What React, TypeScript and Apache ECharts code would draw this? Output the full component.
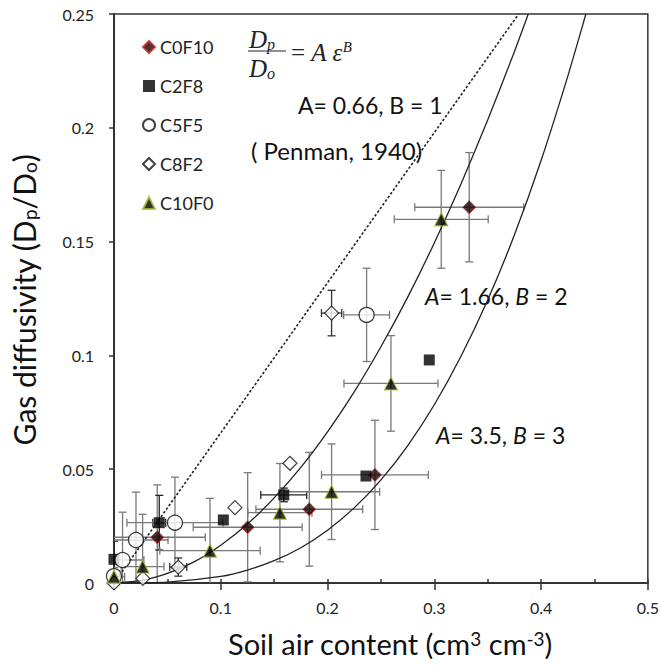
import React, { useEffect, useRef } from "react";
import * as echarts from "echarts";

// ---- model curves ----
const penmanX = [0, 0.379];
const penmanY = [0, 0.25];
const curveB2X = [0, 0.025, 0.05, 0.075, 0.1, 0.125, 0.15, 0.175, 0.2, 0.225, 0.25, 0.275, 0.3, 0.325, 0.35, 0.375, 0.388];
const curveB2Y = [0, 0.001, 0.0042, 0.0093, 0.0166, 0.0259, 0.0374, 0.0508, 0.0664, 0.084, 0.1038, 0.1255, 0.1494, 0.1753, 0.2034, 0.2334, 0.25];
const curveB3X = [0, 0.05, 0.1, 0.125, 0.15, 0.175, 0.2, 0.225, 0.25, 0.275, 0.3, 0.325, 0.35, 0.375, 0.4, 0.425, 0.442];
const curveB3Y = [0, 0.0004, 0.0029, 0.0057, 0.0098, 0.0155, 0.0232, 0.033, 0.0453, 0.0603, 0.0783, 0.0996, 0.1243, 0.1529, 0.1856, 0.2226, 0.25];

// ---- measured data ----
const c0f10X = [0.0405, 0.1252, 0.1829, 0.2444, 0.3327];
const c0f10Y = [0.0201, 0.0245, 0.0324, 0.0475, 0.1651];
const c0f10XErr = [0.045, 0.051, 0.05, 0.05, 0.051];
const c0f10YErr = [0.023, 0.024, 0.025, 0.024, 0.024];

const c2f8X = [0.0, 0.0424, 0.1024, 0.159, 0.236, 0.2953];
const c2f8Y = [0.0104, 0.0265, 0.0277, 0.0387, 0.047, 0.098];
const c2f8XErr = [0, 0.006, 0, 0.0215, 0, 0];
const c2f8YErr = [0.008, 0.012, 0, 0.003, 0, 0];

const c5f5X = [0.0, 0.008, 0.0206, 0.0571, 0.2366];
const c5f5Y = [0.003, 0.0101, 0.0189, 0.0265, 0.1178];
const c5f5XErr = [0, 0.02, 0.03, 0.045, 0.0215];
const c5f5YErr = [0, 0.021, 0.021, 0.02, 0.0205];

const c8f2X = [0.0, 0.027, 0.0602, 0.1133, 0.1648, 0.2038];
const c8f2Y = [0.0, 0.002, 0.007, 0.0331, 0.0526, 0.1186];
const c8f2XErr = [0, 0, 0.008, 0, 0, 0.0095];
const c8f2YErr = [0, 0, 0.004, 0, 0, 0.01];

const c10f0X = [0.0, 0.0268, 0.0899, 0.1554, 0.2038, 0.2594, 0.3065];
const c10f0Y = [0.0028, 0.0072, 0.0142, 0.0309, 0.0401, 0.0877, 0.1598];
const c10f0XErr = [0.01, 0.02, 0.047, 0.03, 0.045, 0.044, 0.044];
const c10f0YErr = [0.004, 0.023, 0.023, 0.0216, 0.021, 0.021, 0.0215];

const xTicks = [0, 0.1, 0.2, 0.3, 0.4, 0.5];
const yTicks = [0, 0.05, 0.1, 0.15, 0.2, 0.25];

const FONT = "Lato";
const SERIF = "Liberation Serif";

const zip = (xs: number[], ys: number[]) => xs.map((x, i) => [x, ys[i]]);
const zipErr = (xs: number[], ys: number[], xe: number[], ye: number[]) =>
  xs.map((x, i) => [x, ys[i], xe[i], ye[i]]);

function errRender(color: string) {
  return (params: any, api: any) => {
    const x = api.value(0);
    const y = api.value(1);
    const xe = api.value(2);
    const ye = api.value(3);
    const cap = 4;
    const children: any[] = [];
    const st = { stroke: color, lineWidth: 1.3 };
    if (ye > 0) {
      const t = api.coord([x, y + ye]);
      const b = api.coord([x, y - ye]);
      children.push({ type: "line", shape: { x1: t[0], y1: t[1], x2: b[0], y2: b[1] }, style: st });
      children.push({ type: "line", shape: { x1: t[0] - cap, y1: t[1], x2: t[0] + cap, y2: t[1] }, style: st });
      children.push({ type: "line", shape: { x1: b[0] - cap, y1: b[1], x2: b[0] + cap, y2: b[1] }, style: st });
    }
    if (xe > 0) {
      const l = api.coord([x - xe, y]);
      const r = api.coord([x + xe, y]);
      children.push({ type: "line", shape: { x1: l[0], y1: l[1], x2: r[0], y2: r[1] }, style: st });
      children.push({ type: "line", shape: { x1: l[0], y1: l[1] - cap, x2: l[0], y2: l[1] + cap }, style: st });
      children.push({ type: "line", shape: { x1: r[0], y1: r[1] - cap, x2: r[0], y2: r[1] + cap }, style: st });
    }
    return { type: "group", children };
  };
}

export default function App() {
  const ref = useRef<HTMLDivElement>(null);
  useEffect(() => {
    document.body.style.margin = "0";
    const chart = echarts.init(ref.current!, null, { renderer: "svg" });
    const errSeries = (name: string, data: any[], color: string) => ({
      type: "custom",
      name: name + "_err",
      renderItem: errRender(color),
      data,
      z: 1,
      clip: true,
      silent: true,
      encode: { x: 0, y: 1 },
    });
    const curve = (data: any[], dotted: boolean) => ({
      type: "line",
      data,
      showSymbol: false,
      smooth: dotted ? false : 0.2,
      lineStyle: { color: "#222", width: dotted ? 1.6 : 1.3, type: dotted ? [2.5, 2] : "solid" },
      z: 2,
      silent: true,
    });
    const sub = (size: number) => ({ fontSize: size, fontStyle: "italic", fontFamily: SERIF, verticalAlign: "bottom", lineHeight: 13 });
    chart.setOption({
      animation: false,
      backgroundColor: "#fff",
      grid: { left: 114, right: 14, top: 14, bottom: 86, show: true, borderColor: "#333", borderWidth: 1.5 },
      xAxis: [
        {
          type: "value",
          min: xTicks[0],
          max: xTicks[xTicks.length - 1],
          interval: 0.1,
          splitLine: { show: false },
          axisLine: { lineStyle: { color: "#333", width: 2 } },
          axisTick: { inside: false, length: 7, lineStyle: { color: "#333", width: 1.5 } },
          axisLabel: { fontFamily: FONT, fontSize: 16, color: "#222", margin: 16 },
        },
        {
          type: "value",
          min: 0,
          max: 0.5,
          interval: 0.05,
          position: "bottom",
          splitLine: { show: false },
          axisLine: { show: false },
          axisTick: { inside: true, length: 4, lineStyle: { color: "#333", width: 1.5 } },
          axisLabel: { show: false },
        },
      ],
      yAxis: {
        type: "value",
        min: yTicks[0],
        max: yTicks[yTicks.length - 1],
        interval: 0.05,
        splitLine: { show: false },
        axisLine: { lineStyle: { color: "#333", width: 2 } },
        axisTick: { inside: false, length: 5, lineStyle: { color: "#333", width: 1.5 } },
        axisLabel: { fontFamily: FONT, fontSize: 16, color: "#222", margin: 20 },
      },
      legend: {
        orient: "vertical",
        left: 137,
        top: 33,
        itemWidth: 12,
        itemHeight: 12,
        itemGap: 21,
        textStyle: { fontFamily: FONT, fontSize: 18, color: "#222" },
        data: ["C0F10", "C2F8", "C5F5", "C8F2", "C10F0"],
      },
      graphic: [
        {
          type: "text",
          left: 249,
          top: 27,
          style: {
            text: "D{sub|p}",
            font: `italic 25px "${SERIF}"`,
            fill: "#222",
            rich: { sub: sub(16) },
          },
        },
        { type: "line", shape: { x1: 248, y1: 51, x2: 286, y2: 51 }, style: { stroke: "#222", lineWidth: 1.2 } },
        {
          type: "text",
          left: 249,
          top: 56,
          style: {
            text: "D{sub|o}",
            font: `italic 25px "${SERIF}"`,
            fill: "#222",
            rich: { sub: sub(16) },
          },
        },
        {
          type: "text",
          x: 291,
          y: 52,
          style: {
            text: "= {i|A ε}{sup|B}",
            font: `25px "${SERIF}"`,
            fill: "#222",
            verticalAlign: "middle",
            rich: {
              i: { fontStyle: "italic", fontSize: 25, fontFamily: SERIF },
              sup: { fontSize: 15, fontStyle: "italic", fontFamily: SERIF, verticalAlign: "top", lineHeight: 13 },
            },
          },
        },
        {
          type: "text",
          x: 298,
          y: 105,
          style: { text: "A= 0.66, B = 1", font: `23px "${FONT}"`, fill: "#111", verticalAlign: "middle" },
        },
        {
          type: "text",
          x: 251,
          y: 150,
          style: { text: "( Penman, 1940)", font: `24px "${FONT}"`, fill: "#111", verticalAlign: "middle" },
        },
        {
          type: "text",
          x: 425,
          y: 296,
          style: {
            text: "{i|A}= 1.66, {i|B} = 2",
            font: `23px "${FONT}"`,
            fill: "#111",
            verticalAlign: "middle",
            rich: { i: { fontStyle: "italic", fontSize: 23, fontFamily: FONT } },
          },
        },
        {
          type: "text",
          x: 436,
          y: 435,
          style: {
            text: "{i|A}= 3.5, {i|B} = 3",
            font: `23px "${FONT}"`,
            fill: "#111",
            verticalAlign: "middle",
            rich: { i: { fontStyle: "italic", fontSize: 23, fontFamily: FONT } },
          },
        },
        {
          type: "text",
          x: 24,
          y: 300,
          rotation: Math.PI / 2,
          style: {
            text: "Gas diffusivity (D{sub|p}/D{sub|o})",
            font: `30px "${FONT}"`,
            fill: "#111",
            align: "center",
            verticalAlign: "middle",
            rich: { sub: { fontSize: 19, fontFamily: FONT, verticalAlign: "bottom", lineHeight: 18 } },
          },
        },
        {
          type: "text",
          x: 390,
          y: 643,
          style: {
            text: "Soil air content (cm{sup|3} cm{sup|-3})",
            font: `29px "${FONT}"`,
            fill: "#111",
            align: "center",
            verticalAlign: "middle",
            rich: { sup: { fontSize: 19, fontFamily: FONT, verticalAlign: "top", lineHeight: 18 } },
          },
        },
      ],
      series: [
        errSeries("C0F10", zipErr(c0f10X, c0f10Y, c0f10XErr, c0f10YErr), "#7a7a7a"),
        errSeries("C2F8", zipErr(c2f8X, c2f8Y, c2f8XErr, c2f8YErr), "#222"),
        errSeries("C5F5", zipErr(c5f5X, c5f5Y, c5f5XErr, c5f5YErr), "#7a7a7a"),
        errSeries("C8F2", zipErr(c8f2X, c8f2Y, c8f2XErr, c8f2YErr), "#333"),
        errSeries("C10F0", zipErr(c10f0X, c10f0Y, c10f0XErr, c10f0YErr), "#7a7a7a"),
        curve(zip(penmanX, penmanY), true),
        curve(zip(curveB2X, curveB2Y), false),
        curve(zip(curveB3X, curveB3Y), false),
        {
          type: "scatter",
          name: "C0F10",
          data: zip(c0f10X, c0f10Y),
          symbol: "diamond",
          symbolSize: 13,
          itemStyle: { color: "#1a0505", borderColor: "#d02020", borderWidth: 1 },
          z: 3,
        },
        {
          type: "scatter",
          name: "C2F8",
          data: zip(c2f8X, c2f8Y),
          symbol: "rect",
          symbolSize: 11,
          itemStyle: { color: "#000" },
          z: 3,
        },
        {
          type: "scatter",
          name: "C5F5",
          data: zip(c5f5X, c5f5Y),
          symbol: "circle",
          symbolSize: 15,
          itemStyle: { color: "#fff", borderColor: "#111", borderWidth: 1.3 },
          z: 3,
        },
        {
          type: "scatter",
          name: "C8F2",
          data: zip(c8f2X, c8f2Y),
          symbol: "diamond",
          symbolSize: 14,
          itemStyle: { color: "#fff", borderColor: "#111", borderWidth: 1.2 },
          z: 3,
        },
        {
          type: "scatter",
          name: "C10F0",
          data: zip(c10f0X, c10f0Y),
          symbol: "triangle",
          symbolSize: 13,
          itemStyle: { color: "#000", borderColor: "#a8c030", borderWidth: 1.2 },
          z: 3,
        },
      ],
    });
    return () => chart.dispose();
  }, []);
  return <div ref={ref} style={{ position: "absolute", left: 0, top: 0, width: 662, height: 669 }} />;
}
